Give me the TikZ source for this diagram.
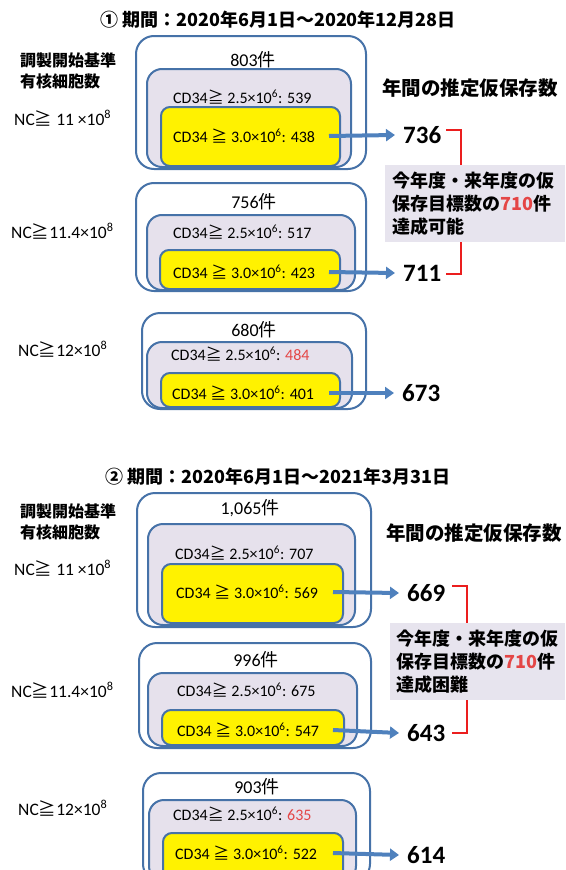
\documentclass[tikz,border=0pt]{standalone}
\usepackage{fontspec}
\setmainfont{Carlito}
\newfontfamily\jp{Noto Sans CJK JP}
\usetikzlibrary{arrows.meta,fit}
\definecolor{bdr}{RGB}{70,114,168}
\definecolor{lav}{RGB}{230,225,236}
\definecolor{grayb}{RGB}{231,228,238}
\definecolor{arrc}{RGB}{79,129,189}
\definecolor{rd}{RGB}{235,30,30}
\definecolor{rtxt}{RGB}{228,70,70}
\newcommand{\myge}{{\jp ≧}}
\tikzset{
  outerbox/.style={draw=bdr, line width=2pt, fill=white, rounded corners=18pt, inner sep=0pt},
  midbox/.style={draw=bdr, line width=2pt, fill=lav, rounded corners=15pt, inner sep=0pt},
  ylwbox/.style={draw=bdr, line width=2pt, fill=yellow, rounded corners=9pt, inner sep=0pt},
  graybox/.style={fill=grayb, inner sep=0pt},
  titletxt/.style={font=\jp\bfseries\fontsize{18}{20}\selectfont, inner sep=0pt},
  lefttxt/.style={font=\jp\bfseries\fontsize{16}{18}\selectfont, inner sep=0pt, anchor=west},
  nctxt/.style={font=\fontsize{17.5}{19}\selectfont, inner sep=0pt, anchor=west},
  kentxt/.style={font=\fontsize{18}{20}\selectfont, inner sep=0pt},
  cdtxt/.style={font=\fontsize{16}{18}\selectfont, inner sep=0pt, anchor=west},
  yeartxt/.style={font=\jp\bfseries\fontsize{19.5}{21}\selectfont, inner sep=0pt, anchor=west},
  numtxt/.style={font=\bfseries\fontsize{25}{27}\selectfont, inner xsep=8pt, inner ysep=0pt, anchor=west},
  graytxt/.style={font=\jp\bfseries\fontsize{18}{23}\selectfont, inner sep=0pt, anchor=west, align=left},
  barrow/.style={draw=arrc, line width=4pt, -{Triangle[length=9pt,width=12pt]}},
  brk/.style={draw=rd, line width=2.6pt}
}
\begin{document}
\begin{tikzpicture}[x=1pt,y=-1pt]
\useasboundingbox (0,0) rectangle (565,870);
\clip (0,0) rectangle (565,870);

% ===== Section 1 =====
\node[titletxt] (t1) at (278,20) {① 期間：2020年6月1日〜2020年12月28日};
\node[lefttxt] (l1a) at (20,60) {調製開始基準};
\node[lefttxt] (l1b) at (20,81) {有核細胞数};
\node[yeartxt] (y1) at (382,88) {年間の推定仮保存数};
\node[nctxt] (nc1) at (14,118) {NC\myge\ 11 ×10\textsuperscript{8}};
\node[nctxt] (nc2) at (11,231) {NC\myge11.4×10\textsuperscript{8}};
\node[nctxt] (nc3) at (18,349) {NC\myge12×10\textsuperscript{8}};

% box 1
\node[outerbox, fit={(136,36) (366,169)}] (o1) {};
\node[midbox, fit={(147,69) (351,167)}] (m1) {};
\node[ylwbox, fit={(161,107) (340,166)}] (y1b) {};
\node[kentxt] (k1) at (253,60) {803{\jp 件}};
\node[cdtxt] (c1) at (173,97) {CD34\myge\ 2.5×10\textsuperscript{6}: 539};
\node[cdtxt] (d1) at (173,136) {CD34 \myge\ 3.0×10\textsuperscript{6}: 438};

% box 2
\node[outerbox, fit={(136,183) (366,291)}] (o2) {};
\node[midbox, fit={(147,215) (355,290)}] (m2) {};
\node[ylwbox, fit={(160,250) (340,289)}] (y2b) {};
\node[kentxt] (k2) at (254,202) {756{\jp 件}};
\node[cdtxt] (c2) at (173,232) {CD34\myge\ 2.5×10\textsuperscript{6}: 517};
\node[cdtxt] (d2) at (173,272) {CD34 \myge\ 3.0×10\textsuperscript{6}: 423};

% box 3
\node[outerbox, fit={(142,313) (366,409)}] (o3) {};
\node[midbox, fit={(147,342) (352,408)}] (m3) {};
\node[ylwbox, fit={(161,373) (340,407)}] (y3b) {};
\node[kentxt] (k3) at (254,330) {680{\jp 件}};
\node[cdtxt] (c3) at (171,354) {CD34\myge\ 2.5×10\textsuperscript{6}: \textcolor{rtxt}{484}};
\node[cdtxt] (d3) at (172,393) {CD34 \myge\ 3.0×10\textsuperscript{6}: 401};

% numbers
\node[numtxt] (n736) at (395,135) {736};
\node[numtxt] (n711) at (395,273) {711};
\node[numtxt] (n673) at (394,393) {673};
\coordinate (a1) at (329,136);
\coordinate (a2) at (329,272);
\coordinate (a3) at (329,393);
\draw[barrow] (a1) -- (n736.west);
\draw[barrow] (a2) -- (n711.west);
\draw[barrow] (a3) -- (n673.west);

% gray box 1
\node[graybox, fit={(385,165) (565,242)}] (g1) {};
\node[graytxt] (g1t) at (392,204) {今年度・来年度の仮\\保存目標数の{\color{rtxt}710}件\\達成可能};
\coordinate (b1s) at (446,130);
\coordinate (b1e) at (446,274);
\coordinate (b1v) at (461,0);
\draw[brk] (b1s) -| (g1.north -| b1v);
\draw[brk] (g1.south -| b1v) |- (b1e);

% ===== Section 2 =====
\node[titletxt] (t2) at (278,477) {② 期間：2020年6月1日〜2021年3月31日};
\node[lefttxt] (l2a) at (20,511) {調製開始基準};
\node[lefttxt] (l2b) at (20,532) {有核細胞数};
\node[yeartxt] (y2) at (386,533) {年間の推定仮保存数};
\node[nctxt] (nc4) at (14,568) {NC\myge\ 11 ×10\textsuperscript{8}};
\node[nctxt] (nc5) at (11,690) {NC\myge11.4×10\textsuperscript{8}};
\node[nctxt] (nc6) at (18,808) {NC\myge12×10\textsuperscript{8}};

% box 4
\node[outerbox, fit={(137,493) (371,627)}] (o4) {};
\node[midbox, fit={(148,524) (355,625)}] (m4) {};
\node[ylwbox, fit={(162,564) (343,623)}] (y4b) {};
\node[kentxt] (k4) at (250,508) {1,065{\jp 件}};
\node[cdtxt] (c4) at (175,553) {CD34\myge\ 2.5×10\textsuperscript{6}: 707};
\node[cdtxt] (d4) at (176,592) {CD34 \myge\ 3.0×10\textsuperscript{6}: 569};

% box 5
\node[outerbox, fit={(139,643) (371,748)}] (o5) {};
\node[midbox, fit={(148,673) (357,746)}] (m5) {};
\node[ylwbox, fit={(162,710) (344,745)}] (y5b) {};
\node[kentxt] (k5) at (256,660) {996{\jp 件}};
\node[cdtxt] (c5) at (177,690) {CD34\myge\ 2.5×10\textsuperscript{6}: 675};
\node[cdtxt] (d5) at (177,730) {CD34 \myge\ 3.0×10\textsuperscript{6}: 547};

% box 6
\node[outerbox, fit={(143,773) (370,882)}] (o6) {};
\node[midbox, fit={(149,800) (356,881)}] (m6) {};
\node[ylwbox, fit={(163,833) (343,880)}] (y6b) {};
\node[kentxt] (k6) at (257,787) {903{\jp 件}};
\node[cdtxt] (c6) at (173,814) {CD34\myge\ 2.5×10\textsuperscript{6}: \textcolor{rtxt}{635}};
\node[cdtxt] (d6) at (175,853) {CD34 \myge\ 3.0×10\textsuperscript{6}: 522};

% numbers
\node[numtxt] (n669) at (399,593) {669};
\node[numtxt] (n643) at (399,733) {643};
\node[numtxt] (n614) at (399,855) {614};
\coordinate (a4) at (333,592);
\coordinate (a5) at (333,730);
\coordinate (a6) at (333,853);
\draw[barrow] (a4) -- (n669.west);
\draw[barrow] (a5) -- (n643.west);
\draw[barrow] (a6) -- (n614.west);

% gray box 2
\node[graybox, fit={(390,623) (565,700)}] (g2) {};
\node[graytxt] (g2t) at (396,662) {今年度・来年度の仮\\保存目標数の{\color{rtxt}710}件\\達成困難};
\coordinate (b2s) at (452,586);
\coordinate (b2e) at (452,733);
\coordinate (b2v) at (467,0);
\draw[brk] (b2s) -| (g2.north -| b2v);
\draw[brk] (g2.south -| b2v) |- (b2e);
\end{tikzpicture}
\end{document}
